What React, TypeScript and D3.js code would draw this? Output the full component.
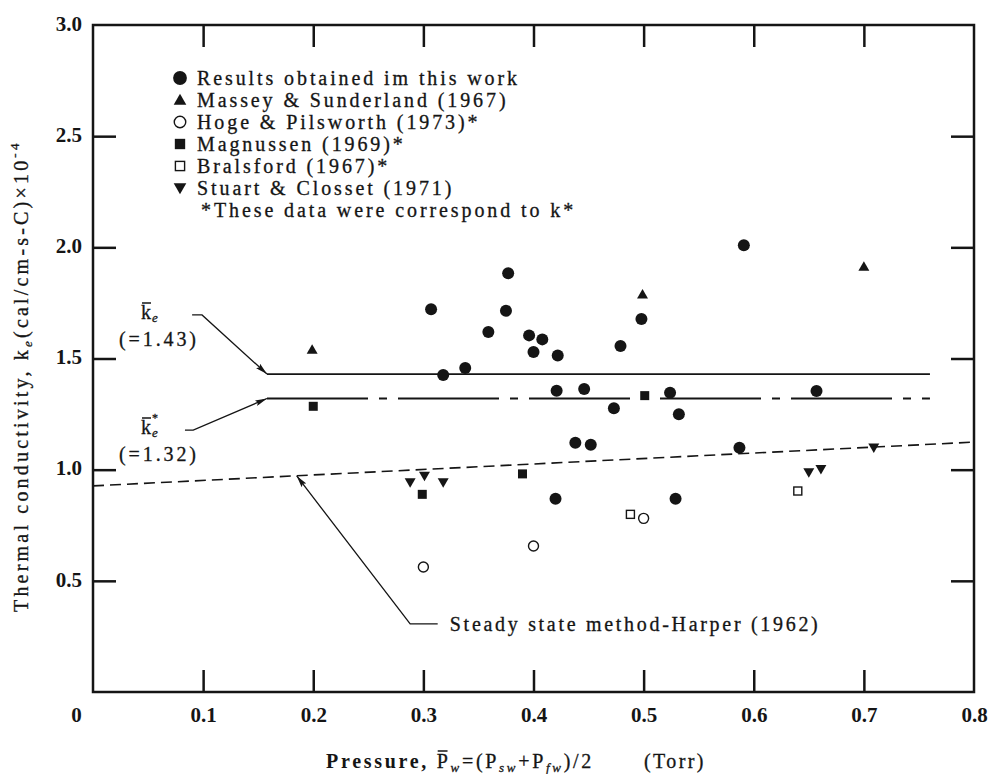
import React, { useRef, useEffect } from 'react';
import * as d3 from 'd3';

// pressure (Torr) / thermal conductivity (x10^-4)
const resultsP = [0.307, 0.318, 0.338, 0.359, 0.375, 0.377, 0.396, 0.408, 0.400, 0.422, 0.421, 0.420, 0.438, 0.446, 0.452, 0.473, 0.479, 0.498, 0.524, 0.529, 0.532, 0.587, 0.591, 0.657];
const resultsK = [1.721, 1.426, 1.457, 1.619, 1.715, 1.883, 1.604, 1.586, 1.529, 1.514, 1.355, 0.869, 1.121, 1.363, 1.112, 1.276, 1.556, 1.678, 1.346, 0.869, 1.249, 1.099, 2.009, 1.354];
const masseyP = [0.199, 0.499, 0.700];
const masseyK = [1.540, 1.789, 1.913];
const hogeP = [0.300, 0.400, 0.500];
const hogeK = [0.562, 0.657, 0.781];
const magnussenP = [0.200, 0.299, 0.390, 0.501];
const magnussenK = [1.285, 0.889, 0.981, 1.333];
const bralsfordP = [0.488, 0.640];
const bralsfordK = [0.799, 0.904];
const stuartP = [0.288, 0.301, 0.318, 0.650, 0.661, 0.709];
const stuartK = [0.943, 0.972, 0.943, 0.988, 1.002, 1.099];

const xTicks = [0, 0.1, 0.2, 0.3, 0.4, 0.5, 0.6, 0.7, 0.8];
const yTicks = [0.5, 1.0, 1.5, 2.0, 2.5, 3.0];

const keMean = 1.43;
const keStarMean = 1.32;
const meanLineRange = [0.158, 0.76];
const harperP = [0, 0.8];
const harperK = [0.927, 1.124];

const legendNames = [
  'Results obtained im this work',
  'Massey & Sunderland (1967)',
  'Hoge & Pilsworth (1973)*',
  'Magnussen (1969)*',
  'Bralsford (1967)*',
  'Stuart & Closset (1971)',
];
const legendNote = '*These data were correspond to k*';

const FONT = '"Liberation Serif", "Times New Roman", serif';
const INK = '#151515';

const W = 996;
const H = 774;

type Kind = 'dot' | 'up' | 'ring' | 'sq' | 'box' | 'down';

const App: React.FC = () => {
  const svgRef = useRef<SVGSVGElement | null>(null);

  useEffect(() => {
    if (!svgRef.current) return;
    const svg = d3.select(svgRef.current);
    svg.selectAll('*').remove();

    const x = d3.scaleLinear().domain([0, 0.8]).range([93, 974]);
    const y = d3.scaleLinear().domain([0, 3]).range([692, 25]);

    const defs = svg.append('defs');
    defs.append('marker')
      .attr('id', 'arrow')
      .attr('viewBox', '0 0 12 6')
      .attr('refX', 12)
      .attr('refY', 3)
      .attr('markerUnits', 'userSpaceOnUse')
      .attr('markerWidth', 13)
      .attr('markerHeight', 6)
      .attr('orient', 'auto')
      .append('path')
      .attr('d', 'M0,0 L12,3 L0,6 L2,3 Z')
      .attr('fill', INK);

    // frame
    svg.append('rect')
      .attr('x', x(0)).attr('y', y(3))
      .attr('width', x(0.8) - x(0)).attr('height', y(0) - y(3))
      .attr('fill', 'none').attr('stroke', INK).attr('stroke-width', 2.5);

    const styleAxis = (g: any) => {
      g.select('.domain').remove();
      g.selectAll('.tick line').attr('stroke', INK).attr('stroke-width', 2.5);
      g.selectAll('.tick text')
        .attr('fill', INK)
        .style('font-family', FONT)
        .style('font-size', '21px')
        .style('font-weight', 'bold');
    };

    const bottom = svg.append('g')
      .attr('transform', `translate(0,${y(0)})`)
      .call(d3.axisBottom(x).tickValues(xTicks).tickFormat((d: any) => d === 0 ? '0' : d3.format('.1f')(d))
        .tickSizeInner(-22).tickSizeOuter(0).tickPadding(15))
      .call(styleAxis);
    bottom.selectAll('.tick').filter((d: any) => d === 0 || d === 0.8).select('line').remove();
    bottom.selectAll('.tick').filter((d: any) => d === 0).select('text').attr('dx', -17);

    const left = svg.append('g')
      .attr('transform', `translate(${x(0)},0)`)
      .call(d3.axisLeft(y).tickValues(yTicks).tickFormat(d3.format('.1f') as any)
        .tickSizeInner(-23).tickSizeOuter(0).tickPadding(11))
      .call(styleAxis);
    left.selectAll('.tick').filter((d: any) => d === 3).select('line').remove();
    left.selectAll('.tick text').attr('dy', '0.25em');

    svg.append('g')
      .attr('transform', `translate(0,${y(3)})`)
      .call(d3.axisTop(x).tickValues(xTicks.slice(1, -1)).tickFormat(() => '')
        .tickSizeInner(-22).tickSizeOuter(0))
      .call(styleAxis);

    svg.append('g')
      .attr('transform', `translate(${x(0.8)},0)`)
      .call(d3.axisRight(y).tickValues(yTicks.slice(0, -1)).tickFormat(() => '')
        .tickSizeInner(-23).tickSizeOuter(0))
      .call(styleAxis);

    // reference lines
    const line = d3.line<[number, number]>().x(d => x(d[0])).y(d => y(d[1]));
    svg.append('path')
      .attr('d', line([[meanLineRange[0], keMean], [meanLineRange[1], keMean]]))
      .attr('stroke', INK).attr('stroke-width', 1.8).attr('fill', 'none');
    svg.append('path')
      .attr('d', line([[meanLineRange[0], keStarMean], [meanLineRange[1], keStarMean]]))
      .attr('stroke', INK).attr('stroke-width', 1.8).attr('fill', 'none')
      .attr('stroke-dasharray', '101 11 8 11');
    svg.append('path')
      .attr('d', line(harperP.map((p, i) => [p, harperK[i]] as [number, number])))
      .attr('stroke', INK).attr('stroke-width', 1.6).attr('fill', 'none')
      .attr('stroke-dasharray', '11 6');

    // leader lines with arrows
    const leaders: [number, number][][] = [
      [[0.090, 1.696], [0.099, 1.696], [meanLineRange[0], keMean]],
      [[0.0835, 1.178], [0.091, 1.178], [meanLineRange[0], keStarMean]],
      [[0.313, 0.306], [0.288, 0.306], [0.185, 0.972]],
    ];
    leaders.forEach(pts => {
      svg.append('path')
        .attr('d', line(pts))
        .attr('stroke', INK).attr('stroke-width', 1.3).attr('fill', 'none')
        .attr('marker-end', 'url(#arrow)');
    });

    // markers
    const drawMarks = (g: any, kind: Kind, cx: number, cy: number, s: number) => {
      if (kind === 'dot') {
        g.append('circle').attr('cx', cx).attr('cy', cy).attr('r', 6 * s).attr('fill', INK);
      } else if (kind === 'ring') {
        g.append('circle').attr('cx', cx).attr('cy', cy).attr('r', 5 * s)
          .attr('fill', 'white').attr('stroke', INK).attr('stroke-width', 1.4);
      } else if (kind === 'sq') {
        const a = 9 * s;
        g.append('rect').attr('x', cx - a / 2).attr('y', cy - a / 2).attr('width', a).attr('height', a).attr('fill', INK);
      } else if (kind === 'box') {
        const a = 8 * s;
        g.append('rect').attr('x', cx - a / 2).attr('y', cy - a / 2).attr('width', a).attr('height', a)
          .attr('fill', 'white').attr('stroke', INK).attr('stroke-width', 1.4);
      } else {
        const tri = d3.symbol().type(d3.symbolTriangle).size(52 * s * s);
        g.append('path').attr('d', tri())
          .attr('transform', `translate(${cx},${cy + (kind === 'up' ? 1 : -1)}) rotate(${kind === 'up' ? 0 : 180})`)
          .attr('fill', INK);
      }
    };

    const series: [number[], number[], Kind][] = [
      [hogeP, hogeK, 'ring'],
      [bralsfordP, bralsfordK, 'box'],
      [magnussenP, magnussenK, 'sq'],
      [stuartP, stuartK, 'down'],
      [masseyP, masseyK, 'up'],
      [resultsP, resultsK, 'dot'],
    ];
    const marks = svg.append('g');
    series.forEach(([ps, ks, kind]) => {
      ps.forEach((p, i) => drawMarks(marks, kind, x(p), y(ks[i]), 1));
    });

    const txt = (px: number, py: number, spacing = 2.9) => svg.append('text')
      .attr('x', px).attr('y', py)
      .style('font-family', FONT).style('font-size', '20px').style('letter-spacing', `${spacing}px`)
      .attr('fill', INK).attr('stroke', INK).attr('stroke-width', 0.3);

    // legend
    const legendKinds: Kind[] = ['dot', 'up', 'ring', 'sq', 'box', 'down'];
    const lg = svg.append('g').attr('transform', 'translate(180,78)');
    legendNames.forEach((name, i) => {
      drawMarks(lg, legendKinds[i], 0, i * 22, 1.15);
    });
    legendNames.forEach((name, i) => {
      txt(197, 78 + i * 22).attr('dy', '0.35em').text(name);
    });
    txt(201, 78 + 6 * 22).attr('dy', '0.35em').text(legendNote);

    const overbar = (node: SVGTSpanElement | SVGTextElement, py: number, trim = 3) => {
      const b = node.getBBox();
      svg.append('line')
        .attr('x1', b.x + 1).attr('x2', b.x + b.width - trim)
        .attr('y1', py).attr('y2', py)
        .attr('stroke', INK).attr('stroke-width', 1.5);
    };

    // ke labels: k with overbar, italic subscript e, optional superscript *
    const kLabel = (px: number, py: number, star: boolean, value: string) => {
      const k = txt(px, py, 0).text('k');
      txt(px + 11, py + 3, 0).style('font-size', '13px').style('font-style', 'italic').text('e');
      if (star) txt(px + 11, py - 12, 0).style('font-size', '12px').text('*');
      overbar(k.node() as SVGTextElement, py - 16, 0);
      txt(px - 22, py + 27).text(value);
    };
    kLabel(141, 319, false, '(=1.43)');
    kLabel(141, 434, true, '(=1.32)');

    txt(x(0.324), y(0.306), 2.7).attr('dy', '0.35em').text('Steady state method-Harper (1962)');

    // axis titles
    const xt = txt(326, 768, 2.7);
    xt.append('tspan').style('font-weight', 'bold').attr('stroke-width', 0).text('Pressure, ');
    const pw = xt.append('tspan').text('P');
    xt.append('tspan').attr('dy', 4).style('font-size', '13px').style('font-style', 'italic').text('w');
    xt.append('tspan').attr('dy', -4).text('=(P');
    xt.append('tspan').attr('dy', 4).style('font-size', '13px').style('font-style', 'italic').text('sw');
    xt.append('tspan').attr('dy', -4).text('+P');
    xt.append('tspan').attr('dy', 4).style('font-size', '13px').style('font-style', 'italic').text('fw');
    xt.append('tspan').attr('dy', -4).text(')/2');
    overbar(pw.node() as SVGTSpanElement, 751);
    txt(644, 768, 2.4).text('(Torr)');

    const yt = svg.append('text')
      .attr('transform', `translate(28,612) rotate(-90)`)
      .style('font-family', FONT).style('font-size', '20px').style('letter-spacing', '3.2px')
      .attr('fill', INK).attr('stroke', INK).attr('stroke-width', 0.3);
    yt.append('tspan').text('Thermal conductivity, k');
    yt.append('tspan').attr('dy', 4).style('font-size', '13px').style('font-style', 'italic').text('e');
    yt.append('tspan').attr('dy', -4).text('(cal/cm-s-C)×10');
    yt.append('tspan').attr('dy', -9).style('font-size', '13px').text('-4');
  }, []);

  return (
    <svg
      ref={svgRef}
      width={W}
      height={H}
      style={{ position: 'absolute', left: 0, top: 0, background: 'white' }}
    />
  );
};

export default App;
